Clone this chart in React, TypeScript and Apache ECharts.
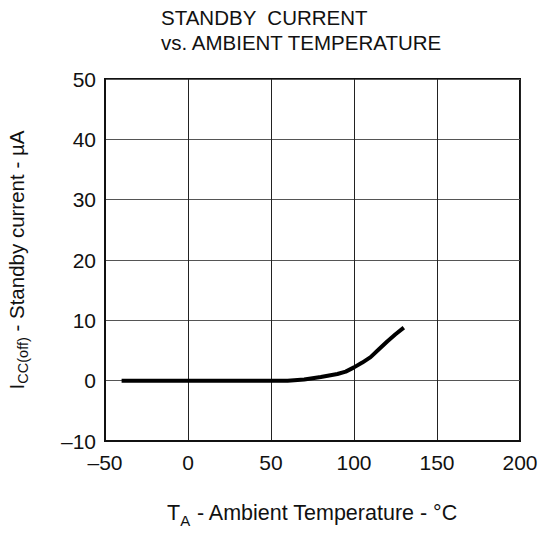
import React, { useEffect, useRef } from "react";
import * as echarts from "echarts";

const titleLines = ["STANDBY  CURRENT", "vs. AMBIENT TEMPERATURE"];
const xTicks = [-50, 0, 50, 100, 150, 200];
const yTicks = [-10, 0, 10, 20, 30, 40, 50];
const temperature = [-40, 0, 25, 60, 70, 80, 90, 95, 100, 105, 110, 115, 120, 125, 130];
const standbyCurrent = [0, 0, 0, 0, 0.2, 0.6, 1.1, 1.5, 2.2, 3.0, 3.9, 5.2, 6.5, 7.7, 8.8];

const FONT = "'Liberation Sans', Arial, Helvetica, sans-serif";

export default function App() {
  const ref = useRef<HTMLDivElement>(null);
  useEffect(() => {
    if (!ref.current) return;
    const chart = echarts.init(ref.current, null, { renderer: "svg" });
    const fmt = (v: number) => String(v).replace("-", "\u2013");
    chart.setOption({
      animation: false,
      backgroundColor: "#fff",
      textStyle: { fontFamily: FONT },
      title: {
        text: titleLines.join("\n"),
        left: 156,
        top: 0,
        textStyle: {
          fontFamily: FONT,
          fontSize: 20.5,
          fontWeight: "normal",
          color: "#111",
          lineHeight: 25,
        },
      },
      grid: {
        left: 105,
        right: 21,
        top: 79,
        bottom: 98,
        show: true,
        borderColor: "#111",
        borderWidth: 2,
        containLabel: false,
        outerBoundsMode: "none",
      },
      xAxis: {
        type: "value",
        min: xTicks[0],
        max: xTicks[xTicks.length - 1],
        interval: 50,
        name: "T{sub|A} - Ambient Temperature - °C",
        nameLocation: "middle",
        nameGap: 57,
        nameTextStyle: {
          fontFamily: FONT,
          fontSize: 21.5,
          color: "#111",
          lineHeight: 30,
          rich: {
            sub: { fontFamily: FONT, fontSize: 15, color: "#111", verticalAlign: "bottom", lineHeight: 15 },
          },
        },
        axisLine: { show: true, onZero: false, lineStyle: { color: "#111", width: 2 } },
        axisTick: { show: false },
        axisLabel: { fontFamily: FONT, fontSize: 21, color: "#111", margin: 11, formatter: fmt },
        splitLine: { show: true, lineStyle: { color: "#222", width: 1 } },
      },
      yAxis: {
        type: "value",
        min: yTicks[0],
        max: yTicks[yTicks.length - 1],
        interval: 10,
        name: "I{sub|CC(off)} - Standby current - µA",
        nameLocation: "middle",
        nameGap: 75,
        nameTextStyle: {
          fontFamily: FONT,
          fontSize: 20.5,
          color: "#111",
          lineHeight: 28,
          rich: {
            sub: { fontFamily: FONT, fontSize: 14.5, color: "#111", verticalAlign: "bottom", lineHeight: 14 },
          },
        },
        axisLine: { show: true, onZero: false, lineStyle: { color: "#111", width: 2 } },
        axisTick: { show: false },
        axisLabel: { fontFamily: FONT, fontSize: 21, color: "#111", margin: 9, formatter: fmt },
        splitLine: { show: true, lineStyle: { color: "#555", width: 1.2 } },
      },
      series: [
        {
          type: "line",
          data: temperature.map((t, i) => [t, standbyCurrent[i]]),
          showSymbol: false,
          smooth: false,
          lineStyle: { color: "#000", width: 4 },
        },
      ],
    });
    return () => chart.dispose();
  }, []);
  return <div ref={ref} style={{ width: 541, height: 539, position: "absolute", left: 0, top: 0 }} />;
}
